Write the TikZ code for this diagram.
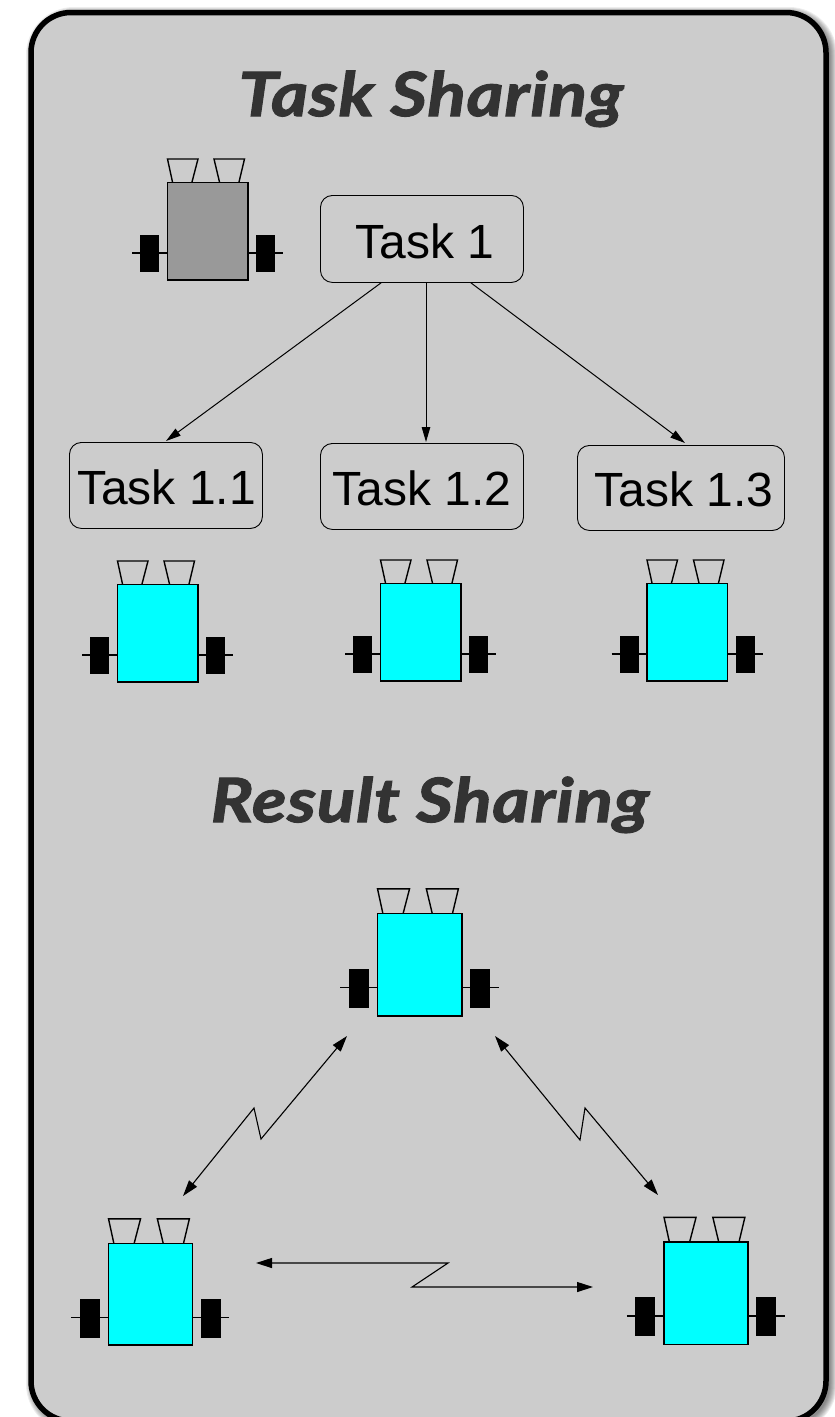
\documentclass[tikz,border=0pt]{standalone}
\usepackage{fontspec}
\setmainfont{Liberation Sans}
\newfontfamily\titlefont[FakeStretch=1.16,FakeBold=2,LetterSpace=1.5]{Lato}
\usetikzlibrary{arrows.meta}
\definecolor{panelgray}{HTML}{CCCCCC}
\definecolor{titlegray}{HTML}{333333}
\definecolor{bodygray}{HTML}{999999}
\definecolor{botcyan}{HTML}{00FFFF}
\tikzset{
  x=1pt,y=-1pt,
  panel/.style={rounded corners=40pt},
  taskbox/.style={draw=black,line width=0.9pt,rounded corners=12pt,inner sep=0pt,text height=38pt,text depth=0pt,font=\fontsize{48}{48}\selectfont},
  titletext/.style={text=titlegray,inner sep=0pt,font=\titlefont\fontsize{61}{61}\selectfont\bfseries\itshape,anchor=base},
  robotbody/.style={draw=black,line width=1.4pt,inner sep=0pt,outer sep=0pt},
  robotpart/.style={draw=black,line width=1.4pt},
  wheel/.style={fill=black},
  link/.style={draw=black,line width=1pt,-{Triangle[length=15pt,width=8.5pt]}},
  radio/.style={draw=black,line width=1.1pt,line join=miter,{Triangle[length=16pt,width=10pt]}-{Triangle[length=16pt,width=10pt]}},
}
% name, body left, body top, body width, body height, colour, scale
\newcommand{\robot}[7]{%
  \begin{scope}[shift={(#2,#3)}]
    \pgfmathsetmacro{\rs}{#7}
    \draw[robotpart] (-35*\rs,71*\rs) -- (0,71*\rs);
    \draw[robotpart] (#4,71*\rs) -- (#4+35*\rs,71*\rs);
    \fill[wheel] (-27*\rs,53*\rs) rectangle (-8*\rs,90*\rs);
    \fill[wheel] (#4+8*\rs,53*\rs) rectangle (#4+27*\rs,90*\rs);
    \draw[robotpart,line join=miter] (5.5*\rs,0) -- (0.5*\rs,-23*\rs) -- (31*\rs,-23*\rs) -- (25*\rs,0);
    \draw[robotpart,line join=miter] (52.5*\rs,0) -- (47*\rs,-23*\rs) -- (77.5*\rs,-23*\rs) -- (72*\rs,0);
    \node[robotbody,fill=#6,anchor=north west,minimum width=#4 pt-0.5pt,minimum height=#5 pt-0.5pt] (#1) at (0.4,0.4) {};
  \end{scope}}
\begin{document}
\begin{tikzpicture}
\useasboundingbox (0,0) rectangle (835,1417);
\clip (0,0) rectangle (835,1417);
\fill[white] (0,0) rectangle (835,1417);
% soft shadow
\foreach \w in {16,14,...,2}{
  \draw[panel,black,opacity=0.07,line width=\w pt] (34,15) rectangle (829,1424);
}
\draw[panel,fill=panelgray,draw=black,line width=5.5pt] (31,12.5) rectangle (826,1421);

\node[titletext] (title1) at (431,116) {Task Sharing};
\node[titletext] (title2) at (430,822) {Result Sharing};

\node[taskbox,text height=39pt,anchor=north west,minimum width=203pt,minimum height=87pt] (t1) at (320,195) {\hspace*{6pt}Task 1};
\node[taskbox,anchor=north west,minimum width=193pt,minimum height=86pt] (t11) at (69,442) {\hspace*{1pt}Task 1.1};
\node[taskbox,anchor=north west,minimum width=203pt,minimum height=86pt] (t12) at (320,443) {Task 1.2};
\node[taskbox,text height=37pt,anchor=north west,minimum width=207pt,minimum height=85pt] (t13) at (577,445) {\hspace*{6pt}Task 1.3};

\draw[link] ([xshift=61pt]t1.south west) -- ([xshift=97pt,yshift=1pt]t11.north west);
\draw[link] ([xshift=106pt]t1.south west) -- ([xshift=106pt,yshift=1pt]t12.north west);
\draw[link] ([xshift=151pt]t1.south west) -- ([xshift=108pt,yshift=2pt]t13.north west);

\robot{rg}{167}{182}{81}{98}{bodygray}{1}
\robot{ra}{117}{584}{81}{98}{botcyan}{1}
\robot{rb}{380}{583}{81}{98}{botcyan}{1}
\robot{rc}{646.5}{583}{81}{98}{botcyan}{1}
\robot{rt}{377}{913}{85}{103}{botcyan}{1.05}
\robot{rl}{108}{1243}{84.5}{102}{botcyan}{1.05}
\robot{rr}{663.5}{1241.5}{84.5}{103}{botcyan}{1.05}

\coordinate (lt) at (347,1036);
\coordinate (lk1) at (261,1139);
\coordinate (lk2) at (254,1108);
\coordinate (lb) at (183,1196);
\coordinate (rtt) at (495,1036);
\coordinate (rk1) at (580,1140);
\coordinate (rk2) at (585,1108);
\coordinate (rbb) at (658,1195);
\coordinate (bl) at (256,1263);
\coordinate (bk1) at (448,1263);
\coordinate (bk2) at (412,1287);
\coordinate (br) at (593,1287);
\draw[radio] (lt) -- (lk1) -- (lk2) -- (lb);
\draw[radio] (rtt) -- (rk1) -- (rk2) -- (rbb);
\draw[radio] (bl) -- (bk1) -- (bk2) -- (br);
\end{tikzpicture}
\end{document}
